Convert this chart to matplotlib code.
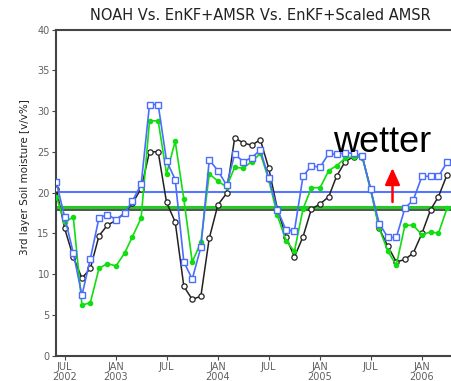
import numpy as np
import pandas as pd
import matplotlib
matplotlib.use('Agg')
import matplotlib.pyplot as plt
import matplotlib.dates as mdates

# Monthly 3rd-layer soil moisture, Jun 2002 - Apr 2006
months = pd.date_range('2002-06-01', periods=47, freq='MS')

noah = [20.5, 15.6, 12.1, 9.5, 10.7, 14.7, 16.0, 16.6, 17.5, 18.7,
        20.5, 25.0, 25.0, 18.8, 16.4, 8.5, 6.9, 7.3, 14.4, 18.5,
        19.9, 26.7, 26.1, 25.8, 26.5, 23.0, 18.0, 14.6, 12.1, 14.6,
        18.0, 18.6, 19.5, 22.0, 23.8, 24.4, 24.4, 20.5, 15.6, 13.4,
        11.5, 11.8, 12.6, 15.0, 17.9, 19.5, 22.2]

enkf_amsr = [21.3, 17.0, 12.6, 7.4, 11.9, 16.9, 17.3, 16.7, 17.5, 19.0,
             21.0, 30.8, 30.8, 23.9, 21.6, 11.5, 9.4, 13.3, 24.0, 22.7,
             20.9, 24.7, 23.8, 24.3, 25.2, 21.8, 17.9, 15.4, 15.3, 22.0,
             23.3, 23.1, 24.8, 24.7, 24.9, 24.8, 24.5, 20.4, 16.2, 14.5,
             14.5, 18.1, 19.1, 22.0, 22.0, 22.0, 23.7]

enkf_scaled = [19.5, 16.4, 17.0, 6.2, 6.5, 10.7, 11.3, 11.0, 12.6, 14.6,
               16.9, 28.8, 28.8, 22.3, 26.3, 19.2, 11.5, 13.9, 22.3, 21.4,
               20.7, 23.1, 23.0, 23.8, 24.8, 21.6, 17.2, 14.1, 12.8, 18.0,
               20.6, 20.6, 22.7, 23.3, 24.2, 24.4, 24.4, 20.3, 15.6, 12.8,
               11.1, 16.0, 16.0, 14.8, 15.2, 15.0, 18.1]

# long-term mean levels
mean_noah = 17.9
mean_amsr = 20.1
mean_scaled = 18.2

tick_dates = pd.date_range('2002-07-01', '2006-01-01', freq='6MS')
tick_labels = ['JUL\n2002', 'JAN\n2003', 'JUL', 'JAN\n2004',
               'JUL', 'JAN\n2005', 'JUL', 'JAN\n2006']

blue = '#4a6dff'
green = '#11dd11'

fig = plt.figure(figsize=(4.51, 3.81), dpi=100)
ax = fig.add_axes([56 / 451, 25.3 / 381, 1 - 56 / 451, 326.2 / 381])

ax.axhline(mean_amsr, color='#5577ff', lw=1.5, zorder=1)
ax.axhline(mean_scaled, color='#22cc22', lw=2.2, zorder=1)
ax.axhline(mean_noah, color='#444444', lw=1.3, zorder=1)

ax.plot(months, noah, color='#222222', lw=1.1, marker='o', ms=3.8,
        mfc='white', mec='#222222', mew=0.9, zorder=3)
ax.plot(months, enkf_scaled, color=green, lw=1.2, marker='o', ms=3,
        mfc=green, mec=green, zorder=3)
ax.plot(months, enkf_amsr, color=blue, lw=1.2, marker='s', ms=4,
        mfc='white', mec=blue, mew=1.0, zorder=4)

ax.set_ylim(0, 40)
ax.set_yticks(range(0, 41, 5))
ax.set_xlim(pd.Timestamp('2002-05-31'), pd.Timestamp('2006-04-15'))
ax.set_xticks(tick_dates)
ax.set_xticklabels(tick_labels, linespacing=0.95)
ax.xaxis.set_minor_locator(mdates.MonthLocator())

for side in ['left', 'bottom', 'top']:
    ax.spines[side].set_color('#444444')
    ax.spines[side].set_linewidth(1.5)
ax.spines['right'].set_visible(False)
ax.tick_params(axis='both', which='major', labelsize=7, labelcolor='#606060',
               color='#444444', length=3, width=0.8, pad=1.5)
ax.tick_params(axis='x', which='minor', length=0)

fig.text(260 / 451, 1 - 15 / 381, 'NOAH Vs. EnKF+AMSR Vs. EnKF+Scaled AMSR',
         ha='center', va='center', fontsize=10.5, color='#222222')
fig.text(25 / 451, 1 - 177 / 381, '3rd layer Soil moisture [v/v%]',
         rotation=90, ha='center', va='center', fontsize=7.5, color='#222222')

fig.text(382 / 451, 1 - 152 / 381, 'wetter', ha='center', va='baseline',
         fontsize=26, family='Liberation Sans', color='black')
ax.annotate('', xy=(392.5 / 451, 1 - 168 / 381), xycoords='figure fraction',
            xytext=(392.5 / 451, 1 - 202 / 381), textcoords='figure fraction',
            arrowprops=dict(arrowstyle='-|>,head_length=1.0,head_width=0.45',
                            color='red', lw=1.8, shrinkA=0, shrinkB=0))

fig.savefig('out.png', dpi=100)
